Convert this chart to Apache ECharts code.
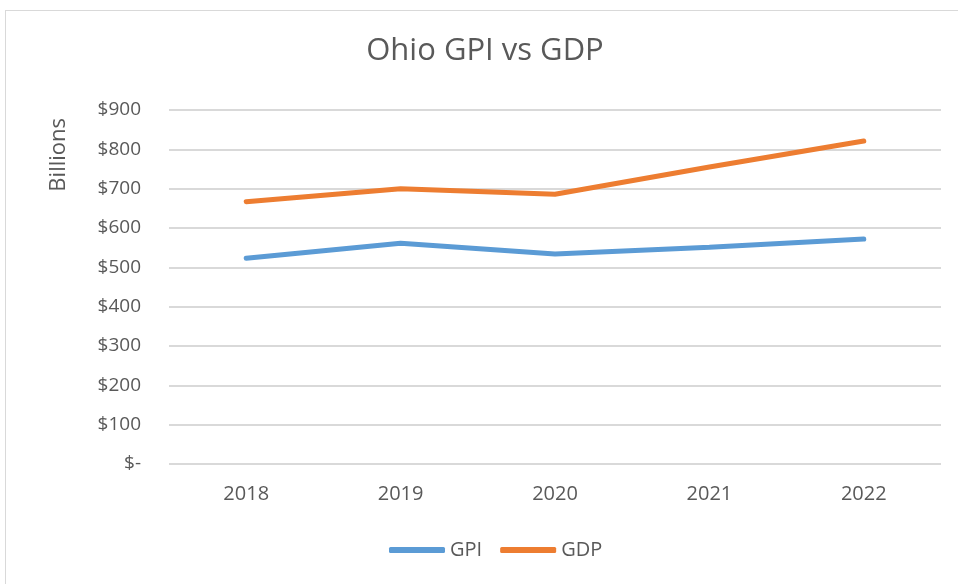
<!DOCTYPE html>
<html lang="en">

<head>
    <meta charset="UTF-8">
    <title>Ohio GPI vs GDP</title>
    <script src="https://cdn.jsdelivr.net/npm/echarts@6/dist/echarts.min.js"></script>
    <style>
        html, body { margin: 0; padding: 0; background: #fff; }
        #chart {
            position: absolute;
            left: 5px;
            top: 10px;
            width: 960px;
            height: 580px;
            border: 1px solid #d9d9d9;
            box-sizing: border-box;
        }
    </style>
</head>

<body>
    <div id="chart"></div>
    <script type="text/javascript">
        // 年份
        const years = ['2018', '2019', '2020', '2021', '2022'];
        // Billions of dollars
        const gpi = [523, 561, 534, 551, 572];
        const gdp = [667, 700, 686, 755, 821];
        const yTicks = [0, 100, 200, 300, 400, 500, 600, 700, 800, 900];

        const textColor = '#595959';
        const font = 'Open Sans';

        let myChart = echarts.init(document.getElementById('chart'));
        let option = {
            animation: false,
            title: {
                text: 'Ohio GPI vs GDP',
                left: 'center',
                top: 20,
                textStyle: { fontFamily: font, fontSize: 31, fontWeight: 'normal', color: textColor }
            },
            legend: {
                bottom: 24,
                left: 378,
                itemWidth: 56,
                itemHeight: 6,
                itemGap: 18,
                icon: 'roundRect',
                textStyle: { fontFamily: font, fontSize: 20, color: textColor },
                data: ['GPI', 'GDP']
            },
            graphic: [{
                type: 'text',
                left: 42,
                top: 107,
                rotation: Math.PI / 2,
                style: { text: 'Billions', fontFamily: font, fontSize: 22, fill: textColor }
            }],
            grid: {
                left: 163,
                right: 23,
                top: 99,
                bottom: 125
            },
            xAxis: {
                type: 'category',
                data: years,
                boundaryGap: true,
                axisLine: { show: false },
                axisTick: { show: false },
                axisLabel: { fontFamily: font, fontSize: 20, color: textColor, margin: 20 }
            },
            yAxis: {
                type: 'value',
                min: yTicks[0],
                max: yTicks[yTicks.length - 1],
                interval: 100,
                axisLine: { show: false },
                axisTick: { show: false },
                splitLine: { lineStyle: { color: '#d9d9d9', width: 2 } },
                axisLabel: {
                    fontFamily: font,
                    fontSize: 19,
                    color: textColor,
                    margin: 28,
                    formatter: v => v === 0 ? '$-' : '$' + v
                }
            },
            series: [{
                name: 'GPI',
                type: 'line',
                data: gpi,
                symbol: 'none',
                lineStyle: { width: 5, color: '#5b9bd5', cap: 'round' },
                itemStyle: { color: '#5b9bd5' }
            }, {
                name: 'GDP',
                type: 'line',
                data: gdp,
                symbol: 'none',
                lineStyle: { width: 5, color: '#ed7d31', cap: 'round' },
                itemStyle: { color: '#ed7d31' }
            }]
        };
        option && myChart.setOption(option);
    </script>
</body>

</html>
